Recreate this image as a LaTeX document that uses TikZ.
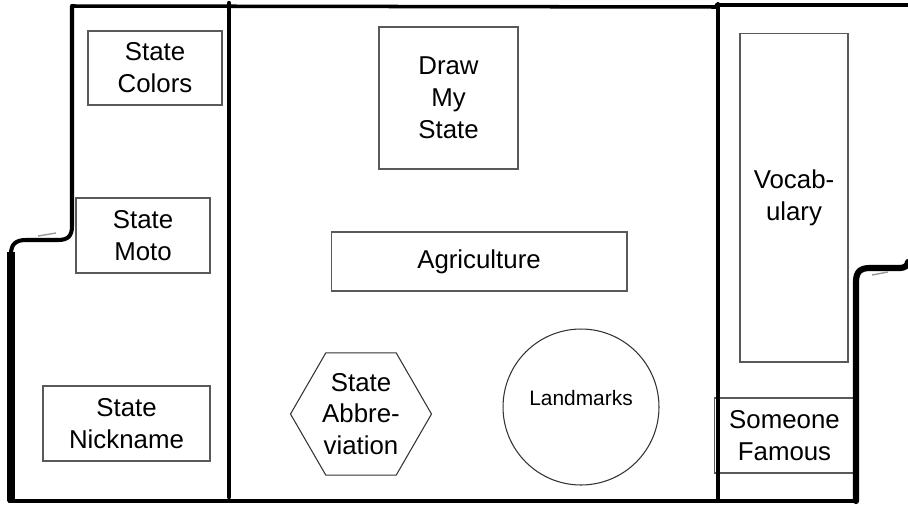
\documentclass[tikz,border=0pt]{standalone}
\usepackage{fontspec}
\setmainfont{Liberation Sans}
\usetikzlibrary{shapes.geometric}

\begin{document}
\begin{tikzpicture}[x=0.02cm, y=-0.02cm,
    stationbox/.style={draw=black!65, line width=0.6pt, inner sep=0pt, align=center, font=\fontsize{14.7}{18.1}\selectfont},
    wallline/.style={line width=2.3pt, line join=round, line cap=round},
    ]
    \useasboundingbox (0,0) rectangle (908,504);

    \node [stationbox, minimum width=2.68cm, minimum height=1.48cm] (colors) at (155,68) {State\\Colors};
    \node [stationbox, minimum width=2.68cm, minimum height=1.5cm] (moto) at (143,235.5) {State\\Moto};
    \node [stationbox, minimum width=3.34cm, minimum height=1.5cm] (nickname) at (126.5,423.5) {State\\Nickname};

    \node [stationbox, minimum width=2.78cm, minimum height=2.84cm] (drawstate) at (448.5,98) {Draw\\My\\State};
    \node [stationbox, minimum width=5.92cm, minimum height=1.18cm] (agri) at (479,261.5) {Agriculture};
    \node [stationbox, draw=black!80, regular polygon, regular polygon sides=6, minimum size=2.82cm] (abbrev) at (361,414) {State\\Abbre-\\viation};
    \node [stationbox, draw=black!80, circle, minimum size=3.12cm,
        label={[font=\fontsize{11.9}{14}\selectfont, yshift=0.18cm]center:Landmarks}] (landmarks) at (581,407) {};

    \node [stationbox, minimum width=2.16cm, minimum height=6.58cm] (vocab) at (794,197.5) {Vocab-\\ulary};
    \node [stationbox, minimum width=2.82cm, minimum height=1.5cm] (famous) at (784.5,435.5) {Someone\\Famous};

    \draw [wallline, line width=2pt] (72,6) -- (717,7);
    \draw [wallline, line width=2.6pt] (717,5) -- (908,5);
    \draw [wallline] (72,6) -- (72,226) .. controls (72,236) and (68,240) .. (58,240) -- (26,240) .. controls (16,240) and (11,244) .. (11,254);
    \draw [wallline, line width=4.5pt, line cap=butt] (11,252) -- (11,501);
    \draw [wallline, line width=1.8pt] (9,501) -- (857,501);
    \draw [wallline, line width=2.5pt] (229,3) -- (229,497);
    \draw [wallline] (718,4) -- (718,501);
    \draw [wallline, line width=3.5pt] (856,501) -- (856,282) .. controls (856,272) and (860,268) .. (870,268) -- (900,268) .. controls (905,268) and (908,265) .. (908,262);
    \draw [black!40, line width=0.8pt] (38,236) -- (56,233);
    \draw [black!40, line width=0.8pt] (872,275) -- (888,272);
\end{tikzpicture}
\end{document}
